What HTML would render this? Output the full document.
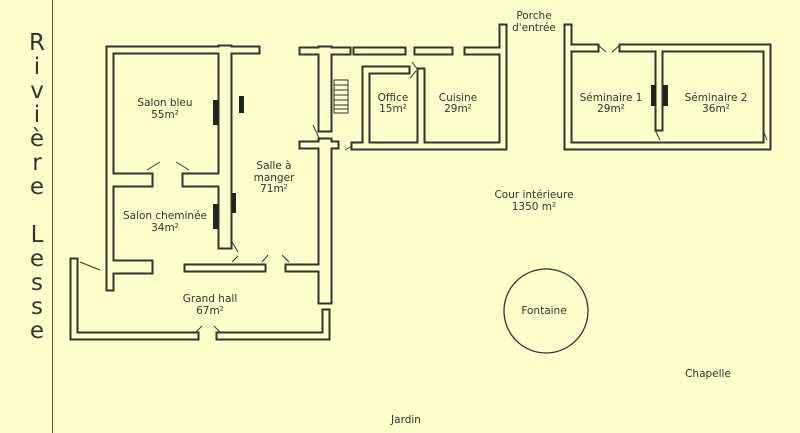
<!DOCTYPE html>
<html><head><meta charset="utf-8"><style>
html,body{margin:0;padding:0;background:#fefecb;}
svg{display:block}
text{font-family:"DejaVu Sans","Liberation Sans",sans-serif;font-size:10.5px;fill:#333;text-anchor:middle}
text.big{font-size:23px;fill:#333}
</style></head><body>
<svg width="800" height="433" viewBox="0 0 800 433" xmlns="http://www.w3.org/2000/svg">
<rect width="800" height="433" fill="#fefecb"/>
<line x1="52.5" y1="0" x2="52.5" y2="433" stroke="#555" stroke-width="1"/>
<defs>
<g id="w8" fill="none">
<path d="M110 50 H256"/>
<path d="M110 50 V287"/>
<path d="M74 262 V336 H195"/>
<path d="M220 336 H326 V313"/>
<path d="M188 268 H262"/>
<path d="M289 268 H322"/>
<path d="M303 145 H335"/>
<path d="M303 51 H347"/>
<path d="M357 51 H402"/>
<path d="M418 51 H449"/>
<path d="M468 51 H503 V146 H355"/>
<path d="M503 51 V28"/>
<path d="M366 146 V70 H406"/>
<path d="M421 72 V146"/>
<path d="M568 28 V146 H767 V48 H623"/>
<path d="M568 48 H595"/>
<path d="M659 48 V127"/>
</g>
<g id="w14" fill="none">
<path d="M225 52 V242"/>
<path d="M117 180 H146"/>
<path d="M189 180 H225"/>
<path d="M117 267 H146"/>
<path d="M325 145 V297"/>
<path d="M325 53 V125"/>
</g>
</defs>
<g stroke-linecap="square">
<use href="#w8" stroke="#333" stroke-width="9"/>
<use href="#w14" stroke="#333" stroke-width="15"/>
<use href="#w8" stroke="#fefecb" stroke-width="5"/>
<use href="#w14" stroke="#fefecb" stroke-width="11"/>
</g>
<g stroke="#333" stroke-width="1" fill="none">
<rect x="334" y="80" width="14" height="33"/>
<path d="M334 85H348M334 90H348M334 95H348M334 100H348M334 105H348M334 109H348"/>
<path d="M80 262 L100 270"/>
<path d="M147 170 L160 162 M176 162 L189 170"/>
<path d="M232 242 L238 252 M232 262 L238 256"/>
<path d="M262 262 L268 255 M289 262 L282 255"/>
<path d="M196 332 L202 326 M220 332 L214 326"/>
<path d="M313 125 L320 140"/>
<path d="M345 150 L352 146"/>
<path d="M412 62 L418 70 M410 78 L416 71"/>
<path d="M598 45 L606 52 M620 45 L612 52"/>
<path d="M655 130 L660 140"/>
<path d="M763 130 L767 140"/>
</g>
<g fill="#222">
<rect x="213" y="100" width="5" height="25"/>
<rect x="239" y="96" width="5" height="17"/>
<rect x="232" y="193" width="4" height="20"/>
<rect x="213" y="204" width="5" height="25"/>
<rect x="651" y="85" width="5" height="21"/>
<rect x="663" y="85" width="5" height="21"/>
</g>
<circle cx="546" cy="311" r="42" fill="none" stroke="#333" stroke-width="1.3"/>
<text class="big" x="37" y="50">R</text><text class="big" x="37" y="74">i</text><text class="big" x="37" y="98">v</text><text class="big" x="37" y="122">i</text><text class="big" x="37" y="146">è</text><text class="big" x="37" y="170">r</text><text class="big" x="37" y="194">e</text>
<text class="big" x="37" y="242">L</text><text class="big" x="37" y="266">e</text><text class="big" x="37" y="290">s</text><text class="big" x="37" y="314">s</text><text class="big" x="37" y="338">e</text>
<text x="165" y="106">Salon bleu</text><text x="165" y="118">55m²</text>
<text x="165" y="219">Salon cheminée</text><text x="165" y="231">34m²</text>
<text x="274" y="169">Salle à</text><text x="274" y="181">manger</text><text x="274" y="192">71m²</text>
<text x="210" y="302">Grand hall</text><text x="210" y="314">67m²</text>
<text x="393" y="101">Office</text><text x="393" y="112">15m²</text>
<text x="458" y="101">Cuisine</text><text x="458" y="112">29m²</text>
<text x="534" y="19">Porche</text><text x="534" y="31">d'entrée</text>
<text x="611" y="101">Séminaire 1</text><text x="611" y="112">29m²</text>
<text x="716" y="101">Séminaire 2</text><text x="716" y="112">36m²</text>
<text x="534" y="198">Cour intérieure</text><text x="534" y="210">1350 m²</text>
<text x="544" y="314">Fontaine</text>
<text x="708" y="377">Chapelle</text>
<text x="406" y="423">Jardin</text>
</svg>
</body></html>
